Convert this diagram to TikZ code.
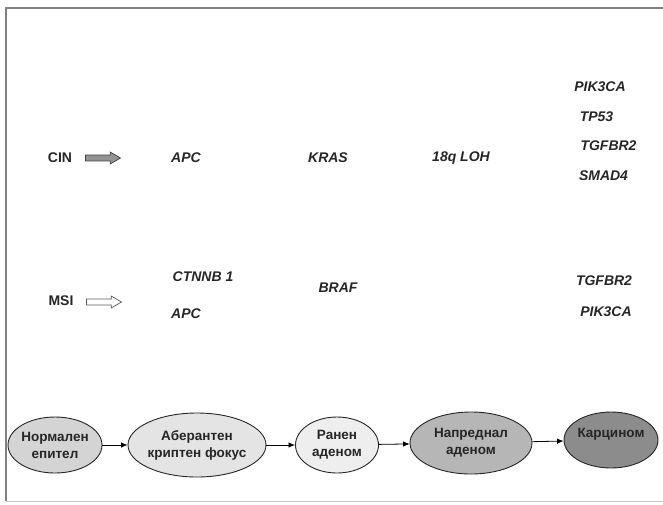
\documentclass[tikz,border=0pt]{standalone}
\usepackage{fontspec}
\setmainfont{Liberation Sans}
\usetikzlibrary{shapes.geometric,shapes.arrows,arrows.meta}
\definecolor{framec}{HTML}{808080}
\definecolor{txt}{HTML}{262626}
\definecolor{fA}{HTML}{D4D4D4}
\definecolor{fB}{HTML}{E4E4E4}
\definecolor{fC}{HTML}{EEEEEE}
\definecolor{fD}{HTML}{B6B6B6}
\definecolor{fE}{HTML}{8C8C8C}
\tikzset{
  stage/.style={ellipse, draw=black!85, line width=0.9pt, inner sep=0pt},
  stagetext/.style={font=\bfseries\fontsize{13.5}{17}\selectfont, text=txt, align=center, inner sep=0pt},
  gene/.style={font=\bfseries\itshape\fontsize{14}{16}\selectfont, text=txt, inner sep=0pt},
  lab/.style={font=\bfseries\fontsize{14}{16}\selectfont, text=txt, inner sep=0pt},
  blockarrow/.style={single arrow, draw, line width=0.7pt, minimum height=35pt, inner sep=2.6pt,
     single arrow head extend=3pt, single arrow tip angle=60},
  flow/.style={-{Latex[length=6.5pt,width=5.5pt]}, line width=0.8pt, black}
}
\begin{document}
\begin{tikzpicture}[x=1pt,y=-1pt]
\useasboundingbox (0,0) rectangle (663,504);
% frame
\draw[framec, line width=2pt] (5.5,501) -- (5.5,8) -- (663,8);
\draw[gray!45, line width=0.8pt] (5.5,501.5) -- (663,501.5);
% row CIN
\node[lab] (cin) at (60,158) {CIN};
\node[blockarrow, fill=gray!85, draw=black!75] (cinarr) at (100.5,158) {};
\node[gene] (apc1) at (186,158) {APC};
\node[gene] (kras) at (328,158) {KRAS};
\node[gene] (loh) at (461,158) {18q LOH};
\node[gene] (pik1) at (600,87) {PIK3CA};
\node[gene] (tp53) at (596.5,117) {TP53};
\node[gene] (tgf1) at (608.5,146) {TGFBR2};
\node[gene] (smad) at (603.5,176) {SMAD4};
% row MSI
\node[lab] (msi) at (61,301) {MSI};
\node[blockarrow, fill=white, draw=black!65] (msiarr) at (101.5,302) {};
\node[gene] (ctnnb) at (203,277) {CTNNB 1};
\node[gene] (apc2) at (186,314) {APC};
\node[gene] (braf) at (338,288) {BRAF};
\node[gene] (tgf2) at (604,281) {TGFBR2};
\node[gene] (pik2) at (606,312) {PIK3CA};
% stages
\node[stage, fill=fA, minimum width=94pt, minimum height=56pt,
  label={[stagetext]center:Нормален\\епител}] (e1) at (55,445) {};
\node[stage, fill=fB, minimum width=138pt, minimum height=64pt,
  label={[stagetext]center:Аберантен\\криптен\ фокус}] (e2) at (197,445) {};
\node[stage, fill=fC, minimum width=83pt, minimum height=56pt,
  label={[stagetext]center:Ранен\\аденом}] (e3) at (337,445) {};
\node[stage, fill=fD, minimum width=122pt, minimum height=62pt,
  label={[stagetext]center:Напреднал\\аденом}] (e4) at (471,443) {};
\node[stage, fill=fE, minimum width=94pt, minimum height=56pt,
  label={[stagetext, yshift=6pt]center:Карцином}] (e5) at (611,440) {};
\draw[flow] (e1) -- (e2);
\draw[flow] (e2) -- (e3);
\draw[flow] (e3) -- (e4);
\draw[flow] (e4) -- (e5);
\end{tikzpicture}
\end{document}
